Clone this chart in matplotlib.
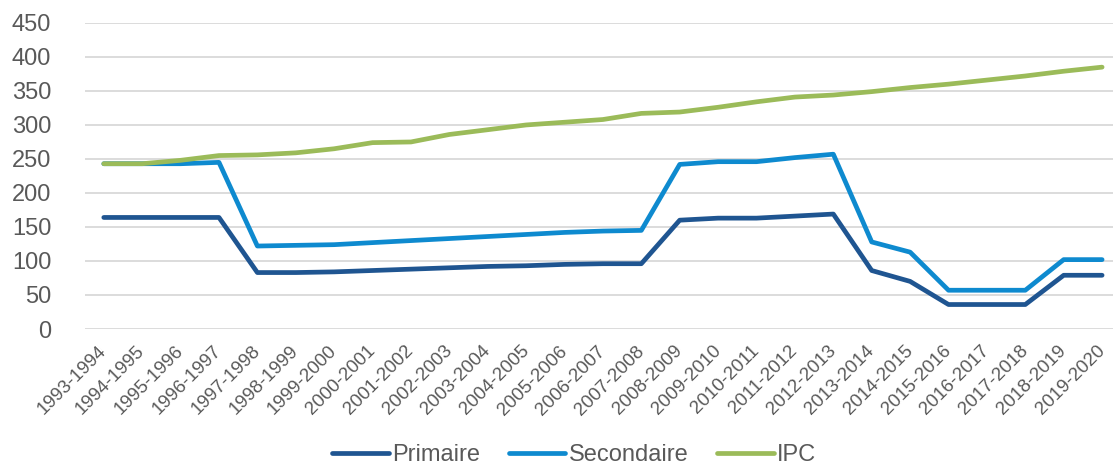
import numpy as np
import matplotlib.pyplot as plt

years = ['1993-1994', '1994-1995', '1995-1996', '1996-1997', '1997-1998', '1998-1999',
         '1999-2000', '2000-2001', '2001-2002', '2002-2003', '2003-2004', '2004-2005',
         '2005-2006', '2006-2007', '2007-2008', '2008-2009', '2009-2010', '2010-2011',
         '2011-2012', '2012-2013', '2013-2014', '2014-2015', '2015-2016', '2016-2017',
         '2017-2018', '2018-2019', '2019-2020']

primaire = [164, 164, 164, 164, 83, 83, 84, 86, 88, 90, 92, 93, 95, 96, 96,
            160, 163, 163, 166, 169, 86, 70, 36, 36, 36, 79, 79]
secondaire = [243, 243, 243, 245, 122, 123, 124, 127, 130, 133, 136, 139, 142, 144, 145,
              242, 246, 246, 252, 257, 128, 113, 57, 57, 57, 102, 102]
ipc = [243, 243, 248, 255, 256, 259, 265, 274, 275, 286, 293, 300, 304, 308, 317,
       319, 326, 334, 341, 344, 349, 355, 360, 366, 372, 379, 385]

plt.rcParams['font.family'] = ['Liberation Sans', 'DejaVu Sans']
grey = '#595959'

fig = plt.figure(figsize=(11.13, 4.68), dpi=100)
ax = fig.add_axes([0.076, 0.297, 0.928, 0.654])

x = np.arange(len(years))
ax.plot(x, primaire, color='#1F5591', lw=3.4, solid_capstyle='round', label='Primaire')
ax.plot(x, secondaire, color='#0E8ACF', lw=3.4, solid_capstyle='round', label='Secondaire')
ax.plot(x, ipc, color='#9BBB59', lw=3.4, solid_capstyle='round', label='IPC')

ax.set_ylim(0, 450)
ax.set_yticks(np.arange(0, 451, 50))
ax.set_xlim(-0.5, 26.4)
ax.set_xticks(x)
ax.set_xticklabels(years, rotation=45, ha='right', va='center', rotation_mode='anchor')
ax.tick_params(axis='x', length=0, labelsize=13.5, labelcolor=grey, pad=14)
ax.tick_params(axis='y', length=0, labelsize=17, labelcolor=grey, pad=24)
ax.grid(axis='y', color='#D9D9D9', lw=1.3)
ax.set_axisbelow(True)
for s in ax.spines.values():
    s.set_visible(False)

fig.legend(loc='center', bbox_to_anchor=(0.516, 0.028), ncol=3, frameon=False,
           fontsize=17, labelcolor=grey, handlelength=2.4, columnspacing=1.2,
           handletextpad=0.15, borderpad=0)

fig.savefig('out.png', dpi=100)
